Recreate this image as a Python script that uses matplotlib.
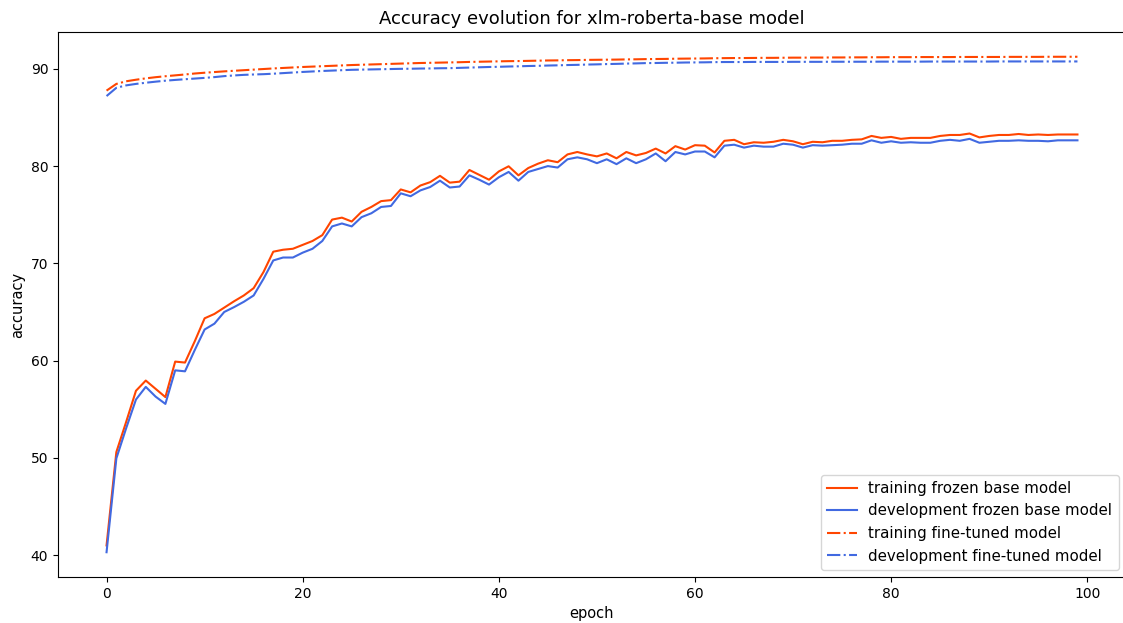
import matplotlib
matplotlib.use("Agg")
import matplotlib.pyplot as plt
import numpy as np

epochs = np.arange(100)

# frozen encoder, only the classification head is trained
train_frozen = [
    41.0, 50.6, 53.7, 56.9, 57.95, 57.1, 56.25, 59.9, 59.8, 62.0,
    64.35, 64.8, 65.45, 66.1, 66.7, 67.45, 69.1, 71.2, 71.4, 71.5,
    71.9, 72.3, 72.9, 74.5, 74.7, 74.3, 75.3, 75.8, 76.4, 76.5,
    77.6, 77.3, 78.0, 78.35, 79.0, 78.3, 78.4, 79.6, 79.1, 78.6,
    79.45, 79.98, 79.05, 79.8, 80.25, 80.6, 80.4, 81.2, 81.45, 81.2,
    81.0, 81.3, 80.8, 81.45, 81.1, 81.35, 81.8, 81.3, 82.05, 81.7,
    82.15, 82.1, 81.4, 82.6, 82.7, 82.25, 82.45, 82.4, 82.5, 82.7,
    82.55, 82.25, 82.5, 82.45, 82.6, 82.6, 82.7, 82.75, 83.1, 82.9,
    83.0, 82.8, 82.9, 82.9, 82.9, 83.1, 83.2, 83.2, 83.35, 82.95,
    83.1, 83.2, 83.2, 83.3, 83.2, 83.25, 83.2, 83.25, 83.25, 83.25,
]
dev_frozen = [
    40.3, 49.95, 53.05, 56.0, 57.3, 56.3, 55.55, 59.0, 58.9, 61.1,
    63.2, 63.8, 65.0, 65.5, 66.05, 66.7, 68.4, 70.3, 70.6, 70.6,
    71.1, 71.5, 72.3, 73.8, 74.1, 73.8, 74.75, 75.15, 75.8, 75.9,
    77.2, 76.9, 77.5, 77.85, 78.5, 77.8, 77.9, 79.05, 78.6, 78.1,
    78.85, 79.4, 78.5, 79.4, 79.7, 80.0, 79.85, 80.7, 80.9, 80.7,
    80.3, 80.7, 80.2, 80.8, 80.3, 80.7, 81.3, 80.5, 81.45, 81.2,
    81.5, 81.5, 80.9, 82.1, 82.2, 81.9, 82.1, 82.0, 82.0, 82.3,
    82.2, 81.9, 82.15, 82.1, 82.15, 82.2, 82.3, 82.3, 82.65, 82.4,
    82.55, 82.4, 82.45, 82.4, 82.4, 82.6, 82.7, 82.6, 82.8, 82.4,
    82.5, 82.6, 82.6, 82.65, 82.6, 82.6, 82.55, 82.65, 82.65, 82.65,
]

# whole model fine-tuned
train_finetuned = [
    87.76, 88.45, 88.72, 88.88, 89.02, 89.14, 89.24, 89.33, 89.42, 89.52,
    89.6, 89.67, 89.74, 89.8, 89.86, 89.92, 89.98, 90.04, 90.09, 90.14,
    90.19, 90.23, 90.27, 90.31, 90.35, 90.39, 90.42, 90.45, 90.48, 90.51,
    90.54, 90.57, 90.6, 90.62, 90.64, 90.66, 90.68, 90.71, 90.73, 90.75,
    90.77, 90.79, 90.8, 90.82, 90.84, 90.86, 90.87, 90.89, 90.9, 90.92,
    90.93, 90.94, 90.95, 90.97, 90.98, 91.0, 91.01, 91.02, 91.04, 91.05,
    91.06, 91.07, 91.09, 91.1, 91.11, 91.11, 91.12, 91.13, 91.13, 91.14,
    91.15, 91.15, 91.16, 91.16, 91.17, 91.17, 91.18, 91.18, 91.19, 91.19,
    91.2, 91.2, 91.2, 91.21, 91.21, 91.21, 91.21, 91.22, 91.22, 91.22,
    91.22, 91.22, 91.23, 91.23, 91.23, 91.23, 91.24, 91.24, 91.24, 91.24,
]
dev_finetuned = [
    87.2, 88.05, 88.3, 88.45, 88.57, 88.68, 88.78, 88.86, 88.93, 89.0,
    89.07, 89.15, 89.25, 89.32, 89.38, 89.42, 89.45, 89.5, 89.56, 89.62,
    89.68, 89.73, 89.78, 89.82, 89.86, 89.9, 89.92, 89.94, 89.96, 89.98,
    90.0, 90.01, 90.03, 90.04, 90.06, 90.07, 90.1, 90.13, 90.16, 90.19,
    90.21, 90.24, 90.26, 90.29, 90.31, 90.34, 90.36, 90.39, 90.41, 90.44,
    90.46, 90.49, 90.51, 90.54, 90.56, 90.59, 90.6, 90.62, 90.63, 90.65,
    90.66, 90.67, 90.69, 90.7, 90.7, 90.7, 90.71, 90.71, 90.71, 90.71,
    90.72, 90.72, 90.72, 90.72, 90.73, 90.73, 90.73, 90.73, 90.73, 90.74,
    90.74, 90.74, 90.74, 90.74, 90.75, 90.75, 90.75, 90.75, 90.75, 90.75,
    90.75, 90.76, 90.76, 90.76, 90.76, 90.76, 90.76, 90.76, 90.76, 90.76,
]

W, H, DPI = 1123, 623, 100
fig = plt.figure(figsize=(W / DPI, H / DPI), dpi=DPI)
# the right spine sits just past the image edge
ax = fig.add_axes([58 / W, 46 / H, 1068 / W, 545 / H])

ax.plot(epochs, train_frozen, color="orangered", label="training frozen base model")
ax.plot(epochs, dev_frozen, color="royalblue", label="development frozen base model")
ax.plot(epochs, train_finetuned, color="orangered", linestyle="-.",
        label="training fine-tuned model")
ax.plot(epochs, dev_finetuned, color="royalblue", linestyle="-.",
        label="development fine-tuned model")

ax.set_title("Accuracy evolution for xlm-roberta-base model", fontsize=13)
ax.set_xlabel("epoch", fontsize=10.5)
ax.set_ylabel("accuracy", fontsize=10.5)
ax.legend(loc="lower right", fontsize=10.8)

fig.savefig("out.png", dpi=DPI)
